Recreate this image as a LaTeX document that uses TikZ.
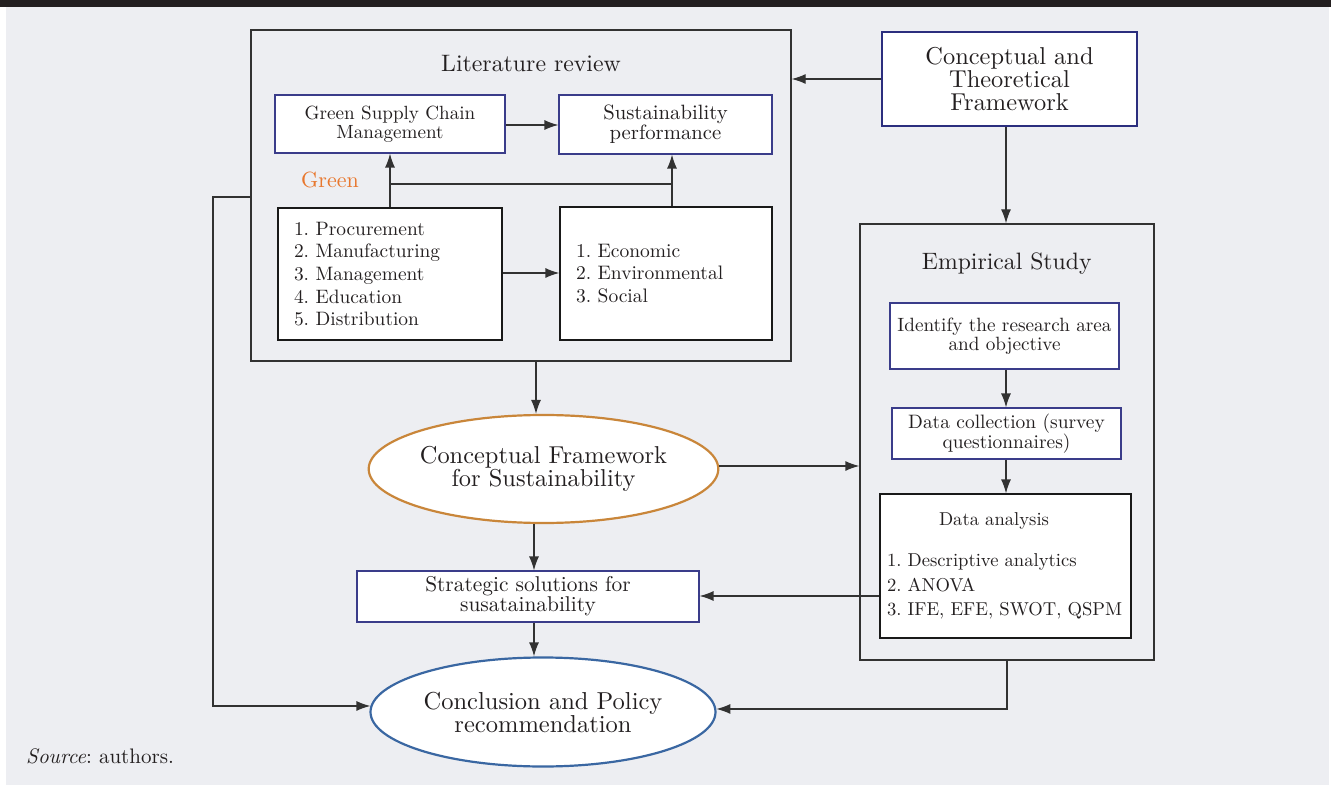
\documentclass[tikz,border=0pt]{standalone}
\usepackage{fontspec}
\setmainfont{lmroman10}[Extension=.otf, UprightFont=*-regular, ItalicFont=*-italic, BoldFont=*-bold, BoldItalicFont=*-bolditalic]
\usetikzlibrary{arrows.meta,shapes.geometric}
\definecolor{bg}{RGB}{237,238,242}
\definecolor{topbar}{RGB}{35,31,32}
\definecolor{navy}{RGB}{58,60,138}
\definecolor{navyd}{RGB}{43,46,126}
\definecolor{ochre}{RGB}{201,134,58}
\definecolor{steel}{RGB}{58,103,162}
\definecolor{orng}{RGB}{232,119,46}
\definecolor{lncol}{RGB}{50,50,50}
\definecolor{txt}{RGB}{35,31,32}
\newcommand{\fsz}[2]{\fontsize{#1}{#2}\selectfont}
\begin{document}
\frenchspacing
\begin{tikzpicture}[x=1pt,y=-1pt,
  every node/.style={text=txt},
  outerbox/.style={draw=lncol, line width=1.3pt, inner sep=0pt},
  plainbox/.style={draw=black!90, line width=1.2pt, fill=white, inner sep=0pt},
  bluebox/.style={draw=navy, line width=1.1pt, fill=white, inner sep=0pt, align=center},
  conn/.style={draw=lncol, line width=1.3pt},
  arr/.style={draw=lncol, line width=1.3pt, -{Latex[length=14pt,width=10pt]}},
  ell/.style={ellipse, fill=white, line width=2.2pt, inner sep=0pt, align=center},
]
% background
\fill[white] (0,0) rectangle (1331,786);
\fill[bg] (6,7) rectangle (1329,785);
\fill[topbar] (0,0) rectangle (1331,7);
\useasboundingbox (0,0) rectangle (1331,786);

% Literature review block
\node[outerbox, minimum width=540pt, minimum height=331pt] (LR) at (521,195.5) {};
\node[anchor=base, font=\fsz{23.8}{26}] (LRt) at (531,72) {Literature review};
\node[bluebox, minimum width=230pt, minimum height=58pt, font=\fsz{19.1}{18.5}] (GSCM) at (390,124) {Green Supply Chain\\Management};
\node[bluebox, minimum width=213pt, minimum height=59pt, font=\fsz{20.7}{20}] (SP) at (665.5,124.5) {Sustainability\\performance};
\node[anchor=base, text=orng, font=\fsz{22}{22}] (GR) at (330,188) {Green};
\node[plainbox, minimum width=224pt, minimum height=132pt, text width=192pt, inner xsep=16pt, align=left, font=\fsz{19.4}{22.7}] (LST) at (390,274)
  {1. Procurement\\2. Manufacturing\\3. Management\\4. Education\\5. Distribution};
\node[plainbox, minimum width=212pt, minimum height=133pt, text width=180pt, inner xsep=16pt, align=left, font=\fsz{19.5}{22.7}] (ECO) at (666,273.5)
  {1. Economic\\2. Environmental\\3. Social};

% Conceptual and theoretical framework
\node[draw=navyd, line width=2.6pt, fill=white, inner sep=0pt, minimum width=255pt, minimum height=94pt, align=center, font=\fsz{24.4}{23}] (CTF) at (1009.5,79)
  {Conceptual and\\Theoretical\\Framework};

% Empirical study block
\node[outerbox, minimum width=294pt, minimum height=436pt] (ES) at (1007,442) {};
\node[anchor=base, font=\fsz{23.7}{26}] (ESt) at (1006.7,269.3) {Empirical Study};
\node[bluebox, minimum width=229pt, minimum height=66pt, font=\fsz{19.2}{18.5}] (ID) at (1004.5,336) {Identify the research area\\and objective};
\node[bluebox, minimum width=229pt, minimum height=51pt, font=\fsz{19.4}{18.5}] (DC) at (1006.5,433.5) {Data collection (survey\\questionnaires)};
\node[plainbox, minimum width=251pt, minimum height=144pt, text width=241pt, inner xsep=5pt, align=left, font=\fsz{18.6}{24.5}] (DA) at (1005.5,566)
  {\hspace*{2pt}\hspace*{52pt}Data analysis\\[16.5pt]\hspace*{2pt}1. Descriptive analytics\\\hspace*{2pt}2. ANOVA\\\hspace*{2pt}3. IFE, EFE, SWOT, QSPM};

% Ellipses and strategic box
\node[ell, draw=ochre, minimum width=347pt, minimum height=108pt, font=\fsz{24.4}{22.7}] (CFS) at (543.5,469) {Conceptual Framework\\for Sustainability};
\node[bluebox, minimum width=342pt, minimum height=51pt, font=\fsz{21.4}{18.5}] (STR) at (528,596.5) {Strategic solutions for\\susatainability};
\node[ell, draw=steel, minimum width=345pt, minimum height=109pt, font=\fsz{24.5}{23}] (CON) at (543,712) {Conclusion and Policy\\recommendation};

% source
\node[anchor=base west, inner sep=0pt, font=\fsz{21}{22}] (SRC) at (26,763) {\textit{Source}: authors.};

% coordinates
\coordinate (x390) at (390,184);
\coordinate (x672) at (672,184);
\coordinate (x536) at (536,0);
\coordinate (x534) at (534,0);
\coordinate (x1006) at (1006,0);
\coordinate (fbtop) at (213,197);

% connectors
\draw[arr] (CTF.west) -- (CTF.west -| LR.east);
\draw[arr] (CTF.south -| x1006) -- (ES.north -| x1006);
\draw[arr] (GSCM.east |- 0,125) -- (SP.west |- 0,125);
\draw[arr] (LST.north -| x390) -- (GSCM.south -| x390);
\draw[arr] (ECO.north -| x672) -- (SP.south -| x672);
\draw[conn] (x390) -- (x672);
\draw[arr] (LST.east |- 0,273) -- (ECO.west |- 0,273);
\draw[arr] (LR.south -| x536) -- (CFS.north -| x536);
\draw[arr] (CFS.east |- 0,466) -- (ES.west |- 0,466);
\draw[arr] (CFS.south -| x534) -- (STR.north -| x534);
\draw[arr] (DA.west |- 0,596) -- (STR.east |- 0,596);
\draw[arr] (STR.south -| x534) -- (CON.north -| x534);
\draw[arr] (ID.south -| x1006) -- (DC.north -| x1006);
\draw[arr] (DC.south -| x1006) -- (DA.north -| x1006);
\draw[arr] (LR.west |- fbtop) -- (fbtop) |- (CON.178.7);
\draw[arr] (ES.south) |- (CON.1.3);
\end{tikzpicture}
\end{document}
